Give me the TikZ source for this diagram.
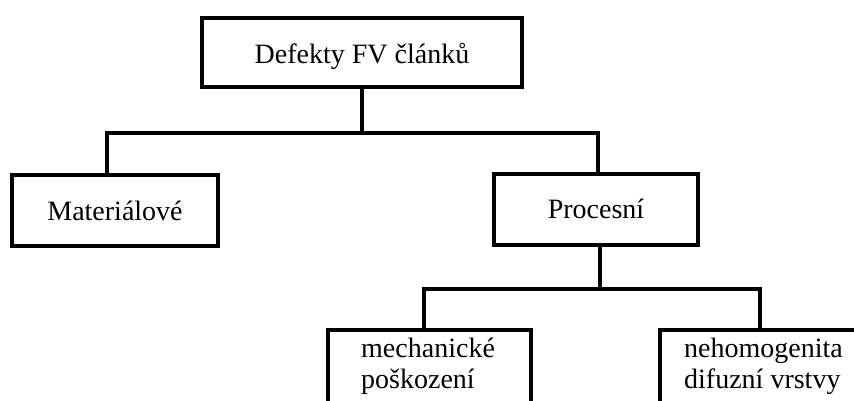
\documentclass[tikz,border=0pt]{standalone}
\usepackage{fontspec}
\setmainfont{Liberation Serif}
\begin{document}
\begin{tikzpicture}[x=1pt,y=-1pt,
  box/.style={draw, line width=4pt, inner sep=0pt, font=\fontsize{28}{31}\selectfont},
  boxtext/.style={inner sep=0pt, align=left, font=\fontsize{28}{31}\selectfont},
  wire/.style={line width=4pt}]
\useasboundingbox (0,0) rectangle (854,400);
\clip (0,0) rectangle (854,400);
% tree nodes
\node[box, minimum width=320pt, minimum height=69pt, text height=23pt, text depth=2pt] (root) at (362,52.5) {Defekty FV článků};
\node[box, minimum width=206pt, minimum height=71pt, text height=22pt, text depth=3pt] (mat) at (115,210.5) {Materiálové};
\node[box, minimum width=204pt, minimum height=71pt, text height=21pt, text depth=4pt] (pro) at (596,209.5) {Procesní};
\node[box, minimum width=203pt, minimum height=100pt] (mech) at (429.5,380) {};
\node[box, minimum width=210pt, minimum height=100pt] (neh) at (765,380) {};
\node[boxtext, anchor=base west] (mechtxt) at (361,388) {mechanické\\poškození};
\node[boxtext, anchor=base west] (nehtxt) at (684,388) {nehomogenita\\difuzní vrstvy};
% junction points of the connectors
\coordinate (b1) at (362,133);
\coordinate (b1l) at (107,133);
\coordinate (b1r) at (598,133);
\coordinate (b2) at (600,289);
\coordinate (b2l) at (424,289);
\coordinate (b2r) at (760,289);
% connectors
\draw[wire] (root.south -| b1) -- (b1);
\draw[wire] (mat.north -| b1l) -- (b1l) -- (b1r) -- (pro.north -| b1r);
\draw[wire] (pro.south -| b2) -- (b2);
\draw[wire] (mech.north -| b2l) -- (b2l) -- (b2r) -- (neh.north -| b2r);
\end{tikzpicture}
\end{document}
